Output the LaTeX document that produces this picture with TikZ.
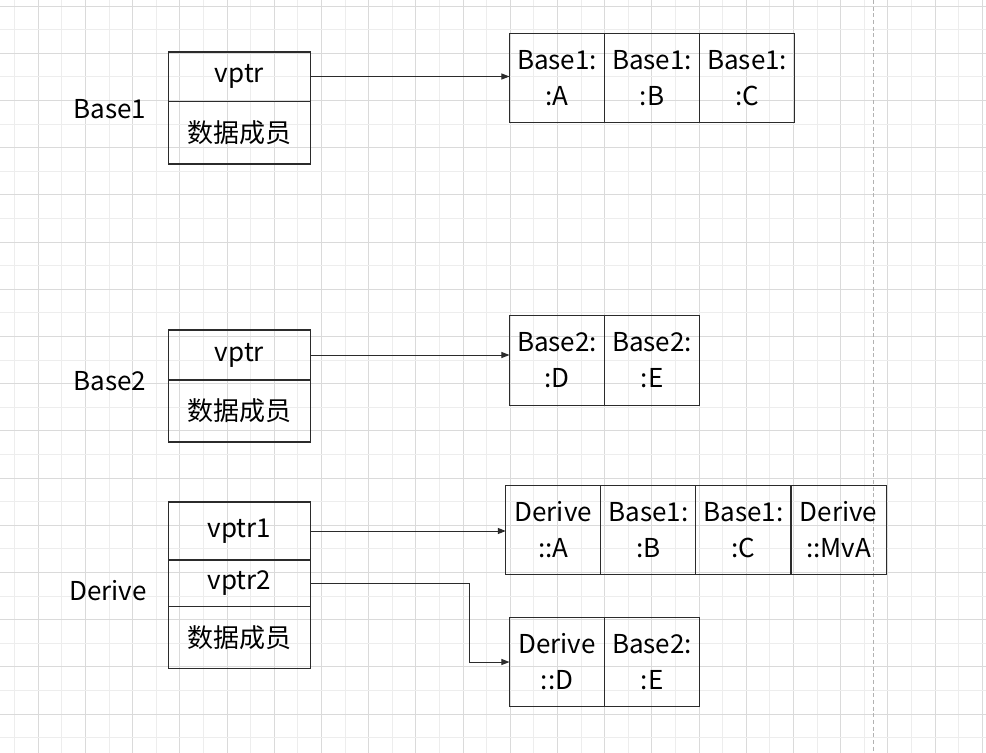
\documentclass[tikz,border=0pt]{standalone}
\usepackage{fontspec}
\setmainfont{Noto Sans CJK SC}
\usepackage{tikz}
\usetikzlibrary{positioning,arrows.meta}
\definecolor{gridlo}{HTML}{EDEDED}
\definecolor{gridhi}{HTML}{DADADA}
\definecolor{linec}{HTML}{2B2B2B}
\tikzset{>={Triangle[length=6pt,width=4.5pt]}}
\tikzset{
  field/.style={draw=linec, line width=0.8pt, minimum width=106pt, inner sep=0pt, outer sep=0pt},
  slot/.style={draw=linec, line width=0.8pt, minimum width=71.3pt, minimum height=67pt, inner sep=0pt, outer sep=0pt, align=center},
  ptr/.style={->, draw=linec, line width=0.75pt},
}

\begin{document}
\begin{tikzpicture}[x=0.75pt,y=-0.75pt,font=\fontsize{19.5}{27}\selectfont,text=black]
\def\gstep {47.2}  % spacing of the darker grid lines
\def\gx {38.3}     % first dark vertical line
\def\gy {6}        % first dark horizontal line
% background and grid:
 \useasboundingbox (0,0) rectangle (986,753);
 \fill[white] (0,0) rectangle (986,753);
 \foreach \k in {0,...,20} {
   \draw[gridlo, line width=0.75pt] (\gx-\gstep/2+\k*\gstep,0) -- (\gx-\gstep/2+\k*\gstep,753);
   \draw[gridhi, line width=0.75pt] (\gx+\k*\gstep,0) -- (\gx+\k*\gstep,753);
 }
 \foreach \k in {0,...,15} {
   \draw[gridhi, line width=0.75pt] (0,\gy+\k*\gstep) -- (986,\gy+\k*\gstep);
   \draw[gridlo, line width=0.75pt] (0,\gy+\gstep/2+\k*\gstep) -- (986,\gy+\gstep/2+\k*\gstep);
 }
 \draw[gray!60, line width=0.75pt, dash pattern=on 3pt off 2pt] (873.3,0) -- (873.3,753);
% Base1:
 \node (b1name) at (110,109) {Base1};
 \node[field, minimum height=36.8pt] (b1ptr) at (239.5,76.5) {vptr};
 \node[field, minimum height=47.2pt, below=0pt of b1ptr] (b1data) {数据成员};
 \node[slot] (b1A) at (557,78) {Base1:\\:A};
 \node[slot, right=0pt of b1A] (b1B) {Base1:\\:B};
 \node[slot, right=0pt of b1B] (b1C) {Base1:\\:C};
 \draw[ptr] (b1ptr.east) -- (b1ptr.east -| b1A.west);
% Base2:
 \node (b2name) at (110,381) {Base2};
 \node[field, minimum height=37.5pt] (b2ptr) at (239.5,355) {vptr};
 \node[field, minimum height=46.5pt, below=0pt of b2ptr] (b2data) {数据成员};
 \node[slot] (b2D) at (557,360.5) {Base2:\\:D};
 \node[slot, right=0pt of b2D] (b2E) {Base2:\\:E};
 \draw[ptr] (b2ptr.east) -- (b2ptr.east -| b2D.west);
% Derive:
 \node (dname) at (108,591) {Derive};
 \node[field, minimum height=43.5pt] (d1ptr) at (239.5,531) {vptr1};
 \node[field, minimum height=35.2pt, below=0pt of d1ptr] (d2ptr) {vptr2};
 \node[field, minimum height=46.5pt, below=0pt of d2ptr] (ddata) {数据成员};
 \node[slot] (dA) at (553.3,530) {Derive\\::A};
 \node[slot, right=0pt of dA] (dB) {Base1:\\:B};
 \node[slot, right=0pt of dB] (dC) {Base1:\\:C};
 \node[slot, right=0pt of dC] (dMvA) {Derive\\::MvA};
 \node[slot] (dD) at (557,662) {Derive\\::D};
 \node[slot, right=0pt of dD] (dE) {Base2:\\:E};
 \coordinate (dbend) at (469.3,0);
 \draw[ptr] (d1ptr.east) -- (d1ptr.east -| dA.west);
 \draw[ptr] (d2ptr.east) -- (d2ptr.east -| dbend) |- (dD.west);
\end{tikzpicture}
\end{document}
